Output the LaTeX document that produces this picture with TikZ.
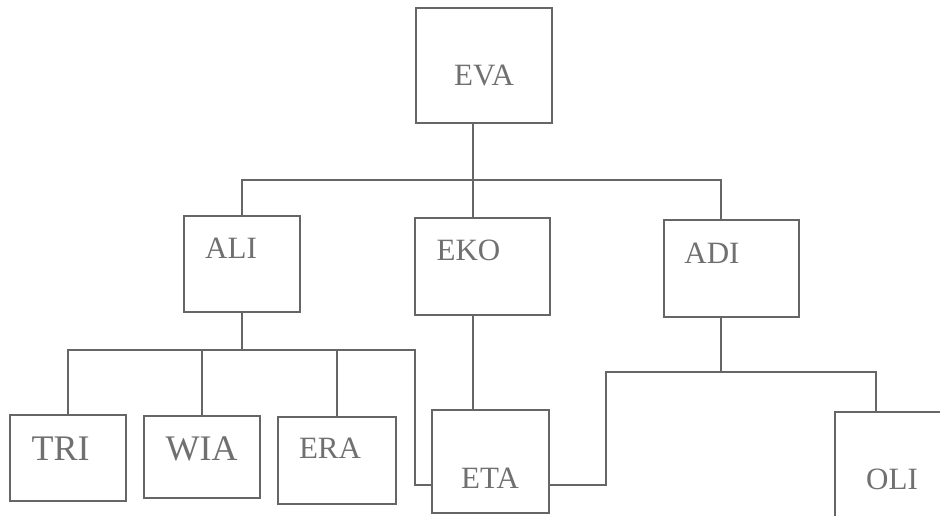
\documentclass[tikz,border=0pt]{standalone}
\usepackage{fontspec}
\setmainfont{Liberation Serif}
\begin{document}
\begin{tikzpicture}[x=1pt,y=-1pt,
  box/.style={draw=inkline, line width=1.6pt, rectangle, inner sep=0pt},
  lbl/.style={text=inktext, inner sep=0pt, font=\fontsize{31}{31}\selectfont},
  biglbl/.style={lbl, font=\fontsize{36}{36}\selectfont},
  link/.style={draw=inkline, line width=1.6pt, line join=miter}]
\definecolor{inkline}{HTML}{666666}
\definecolor{inktext}{HTML}{707070}
\useasboundingbox (0,0) rectangle (940,515);
\clip (0,0) rectangle (940,515);
\fill[white] (0,0) rectangle (940,515);

% boxes (size and centre in px)
\node[box, minimum width=136pt, minimum height=115pt] (eva) at (484,65.5) {};
\node[box, minimum width=116pt, minimum height=96pt]  (ali) at (242,264) {};
\node[box, minimum width=135pt, minimum height=97pt]  (eko) at (482.5,266.5) {};
\node[box, minimum width=135pt, minimum height=97pt]  (adi) at (731.5,268.5) {};
\node[box, minimum width=116pt, minimum height=86pt]  (tri) at (68,458) {};
\node[box, minimum width=116pt, minimum height=82pt]  (wia) at (202,457) {};
\node[box, minimum width=118pt, minimum height=87pt]  (era) at (337,460.5) {};
\node[box, minimum width=117pt, minimum height=103pt] (eta) at (490.5,461.5) {};
\node[box, minimum width=125pt, minimum height=120pt] (oli) at (897.5,472) {};

% names
\node[lbl]    (evat) at (484,75)    {EVA};
\node[lbl]    (alit) at (231,248)   {ALI};
\node[lbl]    (ekot) at (468.5,250) {EKO};
\node[lbl]    (adit) at (712,253)   {ADI};
\node[biglbl] (trit) at (60.5,449)  {TRI};
\node[biglbl] (wiat) at (201.7,449) {WIA};
\node[lbl]    (erat) at (330,448)   {ERA};
\node[lbl]    (etat) at (490,478)   {ETA};
\node[lbl]    (olit) at (892,479)   {OLI};

% junction points
\coordinate (b1)  at (473,180);
\coordinate (b1r) at (721,180);
\coordinate (b2)  at (242,350);
\coordinate (b2r) at (415,350);
\coordinate (etl) at (415,485);
\coordinate (etr) at (606,485);
\coordinate (b3)  at (721,372);
\coordinate (b3r) at (876,372);

% first generation
\draw[link] (eva.south -| b1) -- (eko.north -| b1);
\draw[link] (ali.north) |- (b1r) -- (adi.north -| b1r);

% children of ALI
\draw[link] (ali.south) -- (b2);
\draw[link] (tri.north) |- (b2r) -- (etl) -- (etl -| eta.west);
\draw[link] (wia.north) -- (wia.north |- b2);
\draw[link] (era.north) -- (era.north |- b2);

% EKO to ETA
\draw[link] (eko.south -| b1) -- (eta.north -| b1);

% children of ADI
\draw[link] (adi.south -| b3) -- (b3);
\draw[link] (etr -| eta.east) -- (etr) |- (b3r) -- (oli.north -| b3r);
\end{tikzpicture}
\end{document}
